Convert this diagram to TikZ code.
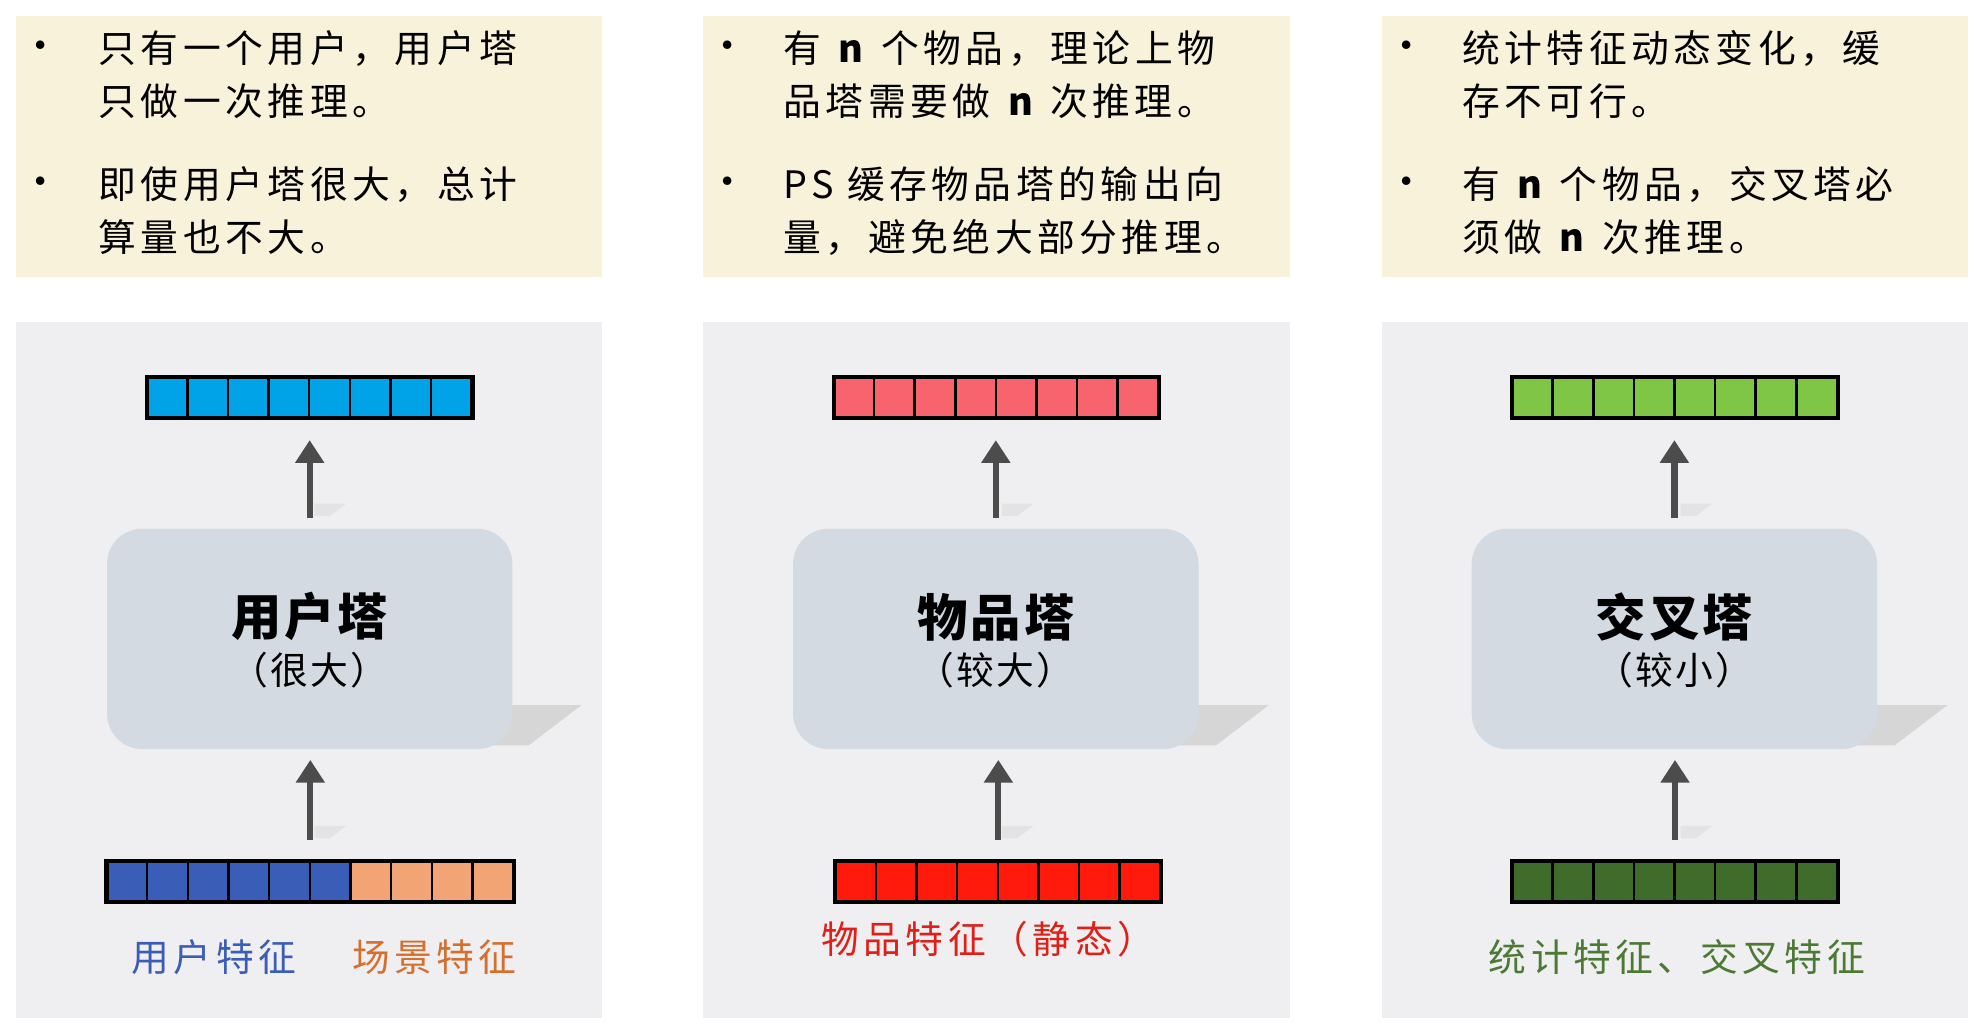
\documentclass[tikz,border=0pt]{standalone}
\usepackage{fontspec}
\usetikzlibrary{arrows.meta}
\newfontfamily\cjk[LetterSpace=12]{Noto Sans CJK SC}
\newfontfamily\cjkt[LetterSpace=6]{Noto Sans CJK SC}
\setmainfont{Liberation Serif}
\definecolor{topbg}{HTML}{F8F2DA}
\definecolor{botbg}{HTML}{EFEEF0}
\definecolor{tower}{HTML}{D3DAE2}
\definecolor{cA}{HTML}{00A2E8}
\definecolor{cB}{HTML}{3A5DB7}
\definecolor{cC}{HTML}{F2A474}
\definecolor{cD}{HTML}{F8646E}
\definecolor{cE}{HTML}{FF1A0C}
\definecolor{cF}{HTML}{80C646}
\definecolor{cG}{HTML}{3F6B2B}
\definecolor{lB}{HTML}{3A5DB7}
\definecolor{lO}{HTML}{D4702E}
\definecolor{lR}{HTML}{E02018}
\definecolor{lG}{HTML}{4C7A34}
\newcommand{\nn}{\textbf{\textit{n}}}
\tikzset{
  x=0.5pt,y=-0.5pt,
  topbox/.style={fill=topbg,draw=none,minimum width=233pt,minimum height=104pt,anchor=north west,inner sep=0},
  botbox/.style={fill=botbg,draw=none,minimum width=233pt,minimum height=276.5pt,anchor=north west,inner sep=0},
  bul/.style={anchor=center,font=\fontsize{16}{20}\selectfont\cjk,inner sep=0},
  btext/.style={anchor=north west,align=left,inner sep=0,font=\fontsize{15}{21}\selectfont\cjk},
  towerbox/.style={fill=tower,rounded corners=14pt,minimum width=161pt,minimum height=87.5pt,inner sep=0},
  vec/.style={draw=none,minimum height=16pt,inner sep=0},
  arr/.style={draw=black!70,line width=2.5pt,-{Triangle[width=11pt,length=9pt]}},
  lab/.style={font=\fontsize{15}{18}\selectfont\cjk,inner sep=0},
}
\newcommand{\cells}[4]{%
  \foreach \i in {1,...,#2} {
    \fill[#4] ([xshift={(\i-1)*#3}]#1.north west) rectangle ([xshift={\i*#3}]#1.south west);
    \draw[line width=1pt] ([xshift={(\i-1)*#3}]#1.north west) rectangle ([xshift={\i*#3}]#1.south west);
  }
  \draw[line width=1.6pt] (#1.north west) rectangle (#1.south east);
}
\begin{document}
\begin{tikzpicture}
\fill[white] (0,0) rectangle (1568,818);
\useasboundingbox (0,0) rectangle (1568,818);
% top boxes
\node[topbox] (t1) at (12,12) {};
\node[topbox] (t2) at (558,12) {};
\node[topbox] (t3) at (1097,12) {};
\node[bul] (b11) at (32,40) {•};
\node[btext] (x11) at (78,24) {只有一个用户，用户塔\\只做一次推理。};
\node[bul] (b12) at (32,148) {•};
\node[btext] (x12) at (78,132) {即使用户塔很大，总计\\算量也不大。};
\node[bul] (b21) at (578,40) {•};
\node[btext] (x21) at (622,24) {有 \nn\ 个物品，理论上物\\品塔需要做 \nn\ 次推理。};
\node[bul] (b22) at (578,148) {•};
\node[btext] (x22) at (622,132) {PS 缓存物品塔的输出向\\量，避免绝大部分推理。};
\node[bul] (b31) at (1117,40) {•};
\node[btext] (x31) at (1161,24) {统计特征动态变化，缓\\存不可行。};
\node[bul] (b32) at (1117,148) {•};
\node[btext] (x32) at (1161,132) {有 \nn\ 个物品，交叉塔必\\须做 \nn\ 次推理。};
% bottom panels
\node[botbox] (p1) at (12,255) {};
\node[botbox] (p2) at (558,255) {};
\node[botbox] (p3) at (1097,255) {};
% shadows
\foreach \dx in {0,546,1085}{
  \fill[black!25,opacity=0.5] (300+\dx,560) -- (462+\dx,560) -- (420+\dx,592) -- (300+\dx,592) -- cycle;
  \fill[black!15,opacity=0.5] (250+\dx,400) -- (275+\dx,400) -- (262+\dx,410) -- (250+\dx,410) -- cycle;
  \fill[black!15,opacity=0.5] (250+\dx,656) -- (275+\dx,656) -- (262+\dx,666) -- (250+\dx,666) -- cycle;
}
% towers
\node[towerbox] (w1) at (246,507.5) {};
\node[towerbox] (w2) at (791,507.5) {};
\node[towerbox] (w3) at (1330,507.5) {};
\node[font=\fontsize{20}{24}\selectfont\cjkt\bfseries] (n1) at (246,490) {用户塔};
\node[font=\fontsize{15}{18}\selectfont\cjkt] (s1) at (246,532) {（很大）};
\node[font=\fontsize{20}{24}\selectfont\cjkt\bfseries] (n2) at (791,490) {物品塔};
\node[font=\fontsize{15}{18}\selectfont\cjkt] (s2) at (791,532) {（较大）};
\node[font=\fontsize{20}{24}\selectfont\cjkt\bfseries] (n3) at (1330,490) {交叉塔};
\node[font=\fontsize{15}{18}\selectfont\cjkt] (s3) at (1330,532) {（较小）};
% vectors
\node[vec,minimum width=129pt] (o1) at (246,316) {};
\node[vec,minimum width=129pt] (o2) at (791.5,316) {};
\node[vec,minimum width=129pt] (o3) at (1330.5,316) {};
\node[vec,minimum width=161.5pt] (i1) at (246.5,700) {};
\node[vec,minimum width=129pt] (i2) at (793,700) {};
\node[vec,minimum width=129pt] (i3) at (1330.5,700) {};
\cells{o1}{8}{16.125pt}{cA}
\cells{o2}{8}{16.125pt}{cD}
\cells{o3}{8}{16.125pt}{cF}
\cells{i1}{10}{16.15pt}{cC}
\foreach \i in {1,...,6}{
  \fill[cB] ([xshift={(\i-1)*16.15pt}]i1.north west) rectangle ([xshift={\i*16.15pt}]i1.south west);
  \draw[line width=1pt] ([xshift={(\i-1)*16.15pt}]i1.north west) rectangle ([xshift={\i*16.15pt}]i1.south west);
}
\draw[line width=1.6pt] (i1.north west) rectangle (i1.south east);
\cells{i2}{8}{16.125pt}{cE}
\cells{i3}{8}{16.125pt}{cG}
% arrows
\draw[arr] (w1.north) ++(0,-8) -- ++(0,-62) coordinate (a1);
\draw[arr] (i1.north) ++(0,-16) -- ++(0,-64) coordinate (a2);
\draw[arr] (w2.north) ++(0,-8) -- ++(0,-62) coordinate (a3);
\draw[arr] (i2.north) ++(0,-16) -- ++(0,-64) coordinate (a4);
\draw[arr] (w3.north) ++(0,-8) -- ++(0,-62) coordinate (a5);
\draw[arr] (i3.north) ++(0,-16) -- ++(0,-64) coordinate (a6);
% labels
\node[lab,text=lB] (l1) at (170,760) {用户特征};
\node[lab,text=lO] (l2) at (345,760) {场景特征};
\node[lab,text=lR] (l3) at (785,746) {物品特征（静态）};
\node[lab,text=lG] (l4) at (1332,760) {统计特征、交叉特征};
\end{tikzpicture}
\end{document}
